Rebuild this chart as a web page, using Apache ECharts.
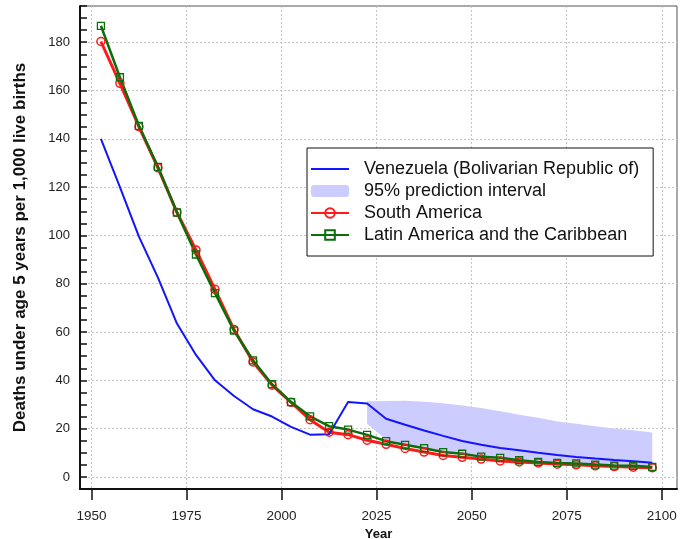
<!DOCTYPE html>
<html>
<head>
<meta charset="utf-8">
<script src="https://cdn.jsdelivr.net/npm/echarts@6/dist/echarts.min.js"></script>
<style>
	html, body { margin: 0; padding: 0; background: #fff; }
	#chart { width: 696px; height: 539px; }
</style>
</head>
<body>
<div id="chart"></div>
<script>
// 5-year period midpoints
var years = [1952.5, 1957.5, 1962.5, 1967.5, 1972.5, 1977.5, 1982.5, 1987.5, 1992.5, 1997.5,
	2002.5, 2007.5, 2012.5, 2017.5, 2022.5, 2027.5, 2032.5, 2037.5, 2042.5, 2047.5,
	2052.5, 2057.5, 2062.5, 2067.5, 2072.5, 2077.5, 2082.5, 2087.5, 2092.5, 2097.5];
var venezuela = [140, 120, 99.5, 82.5, 63.5, 50.5, 40, 33.5, 28, 25,
	20.7, 17.5, 17.7, 31, 30.4, 24.1, 21.6, 19.2, 17.0, 14.9,
	13.3, 12.0, 11.0, 10.0, 9.1, 8.3, 7.6, 7.0, 6.5, 5.9];
var southAmerica = [180.3, 163, 145, 128, 109.5, 94, 77.7, 61, 47.6, 38,
	30.9, 23.7, 18.5, 17.5, 15.2, 13.5, 11.8, 10.3, 8.9, 8.1,
	7.4, 6.6, 6.2, 5.8, 5.3, 5.0, 4.6, 4.3, 4.0, 3.8];
var latinAmerica = [186.8, 165.5, 145.4, 128.4, 109.5, 92.1, 76.1, 60.6, 48.3, 38.4,
	31.0, 25.1, 21.0, 19.6, 17.4, 14.8, 13.3, 11.9, 10.3, 9.6,
	8.4, 7.9, 6.9, 6.2, 5.8, 5.6, 5.1, 4.7, 4.6, 4.1];
// 95% prediction interval (projection years only)
var bandYears = [2022.5, 2027.5, 2032.5, 2037.5, 2042.5, 2047.5, 2052.5, 2057.5,
	2062.5, 2067.5, 2072.5, 2077.5, 2082.5, 2087.5, 2092.5, 2097.5];
var bandUpper = [31.3, 31.4, 31.5, 31.1, 30.5, 29.6, 28.5, 27.2, 25.7, 24.5, 23.0, 22.0, 21.0, 20.1, 19.3, 18.4];
var bandLower = [22.0, 15.5, 13.5, 12.0, 10.5, 9.6, 8.6, 7.9, 7.1, 6.5, 6.0, 5.7, 5.3, 4.9, 4.7, 4.4];

var xTicks = [1950, 1975, 2000, 2025, 2050, 2075, 2100];
var yTicks = [0, 20, 40, 60, 80, 100, 120, 140, 160, 180];

var NAMES = {
	ven	: 'Venezuela (Bolivarian Republic of)',
	band	: '95% prediction interval',
	sa	: 'South America',
	lac	: 'Latin America and the Caribbean'
};

function toPairs(xs, ys) {
	var out = [];
	for(var i=0; i<xs.length; i++) {
		out.push([xs[i], ys[i]]);
	}
	return out;
}

// whole band drawn as one polygon, through the axis scales
function renderBand(params, api) {
	if(params.dataIndex != 0) return null;
	var upper = [];
	var lower = [];
	for(var i=0; i<bandYears.length; i++) {
		upper.push(api.coord([bandYears[i], bandUpper[i]]));
		lower.unshift(api.coord([bandYears[i], bandLower[i]]));
	}
	return {
		type: 'polygon',
		shape: { points: upper.concat(lower) },
		style: { fill: '#ccccff' }
	};
}

// minor ticks on the y axis every 5 units
var yMinor = [];
for(var v=-5; v<=195; v+=5) yMinor.push(v);

var gridLine = {
	show: true,
	lineStyle: { color: '#c4c4c4', type: [2, 2], width: 1 }
};

var bandData = [];
for(var k=0; k<bandYears.length; k++) {
	bandData.push([bandYears[k], bandLower[k], bandUpper[k]]);
}

var option = {
	animation: false,
	textStyle: { fontFamily: 'Liberation Sans, Arial, sans-serif' },
	grid: {
		left: 80, top: 6, right: 19, bottom: 50,
		outerBoundsMode: 'none',
		containLabel: false,
		show: true, borderColor: '#555', borderWidth: 1
	},
	legend: {
		orient: 'vertical',
		left: 307, top: 148,
		padding: [12, 14, 12, 3],
		itemGap: 4,
		itemWidth: 38,
		itemHeight: 12,
		borderColor: '#111',
		borderWidth: 1,
		backgroundColor: '#fff',
		textStyle: { fontSize: 18, color: '#111', padding: [0, 0, 0, 10] },
		data: [
			{ name: NAMES.ven, itemStyle: { opacity: 0 } },
			{ name: NAMES.band, icon: 'roundRect', itemStyle: { color: '#ccccff' } },
			{ name: NAMES.sa },
			{ name: NAMES.lac }
		]
	},
	xAxis: {
		type: 'value',
		min: 1947, max: 2104,
		name: 'Year',
		nameLocation: 'middle',
		nameGap: 37,
		nameTextStyle: { fontSize: 13, fontWeight: 'bold', color: '#111' },
		axisLine: { show: true, onZero: false, lineStyle: { color: '#111', width: 2 } },
		axisTick: { show: true, length: 11, customValues: xTicks, lineStyle: { color: '#111', width: 1.5 } },
		axisLabel: {
			customValues: xTicks, fontSize: 13.5, color: '#222', margin: 20,
			formatter: function(val) { return String(val); }
		},
		splitLine: gridLine
	},
	yAxis: [{
		type: 'value',
		min: -5, max: 195,
		position: 'left',
		name: 'Deaths under age 5 years per 1,000 live births',
		nameLocation: 'middle',
		nameGap: 51,
		nameTextStyle: { fontSize: 17, fontWeight: 'bold', color: '#111' },
		axisLine: { show: true, onZero: false, lineStyle: { color: '#111', width: 2 } },
		axisTick: { show: true, inside: true, length: 7, customValues: yMinor, lineStyle: { color: '#111', width: 1.5 } },
		axisLabel: {
			customValues: yTicks, fontSize: 13, color: '#222', margin: 10,
			formatter: function(val) { return String(val); }
		},
		splitLine: { show: false }
	}, {
		type: 'value',
		min: -5, max: 195,
		position: 'left',
		axisLine: { show: false },
		axisTick: { show: false, customValues: yTicks },
		axisLabel: { show: false, customValues: yTicks },
		splitLine: gridLine
	}],
	series: [{
		name: NAMES.band,
		type: 'custom',
		data: bandData,
		encode: { x: 0, y: [1, 2] },
		renderItem: renderBand,
		itemStyle: { color: '#ccccff' },
		silent: true
	}, {
		name: NAMES.sa,
		type: 'line',
		data: toPairs(years, southAmerica),
		symbol: 'circle',
		symbolSize: 8,
		itemStyle: { color: 'rgba(255,255,255,0)', borderColor: '#ff1a1a', borderWidth: 1.5 },
		lineStyle: { color: '#ff1a1a', width: 3 }
	}, {
		name: NAMES.lac,
		type: 'line',
		data: toPairs(years, latinAmerica),
		symbol: 'rect',
		symbolSize: 7,
		itemStyle: { color: 'rgba(255,255,255,0)', borderColor: '#0b6e0b', borderWidth: 1.3 },
		lineStyle: { color: '#0b6e0b', width: 2.5 }
	}, {
		name: NAMES.ven,
		type: 'line',
		data: toPairs(years, venezuela),
		symbol: 'none',
		color: '#1414ff',
		lineStyle: { color: '#1414ff', width: 2 }
	}]
};

var chart = echarts.init(document.getElementById('chart'));
chart.setOption(option);
</script>
</body>
</html>
